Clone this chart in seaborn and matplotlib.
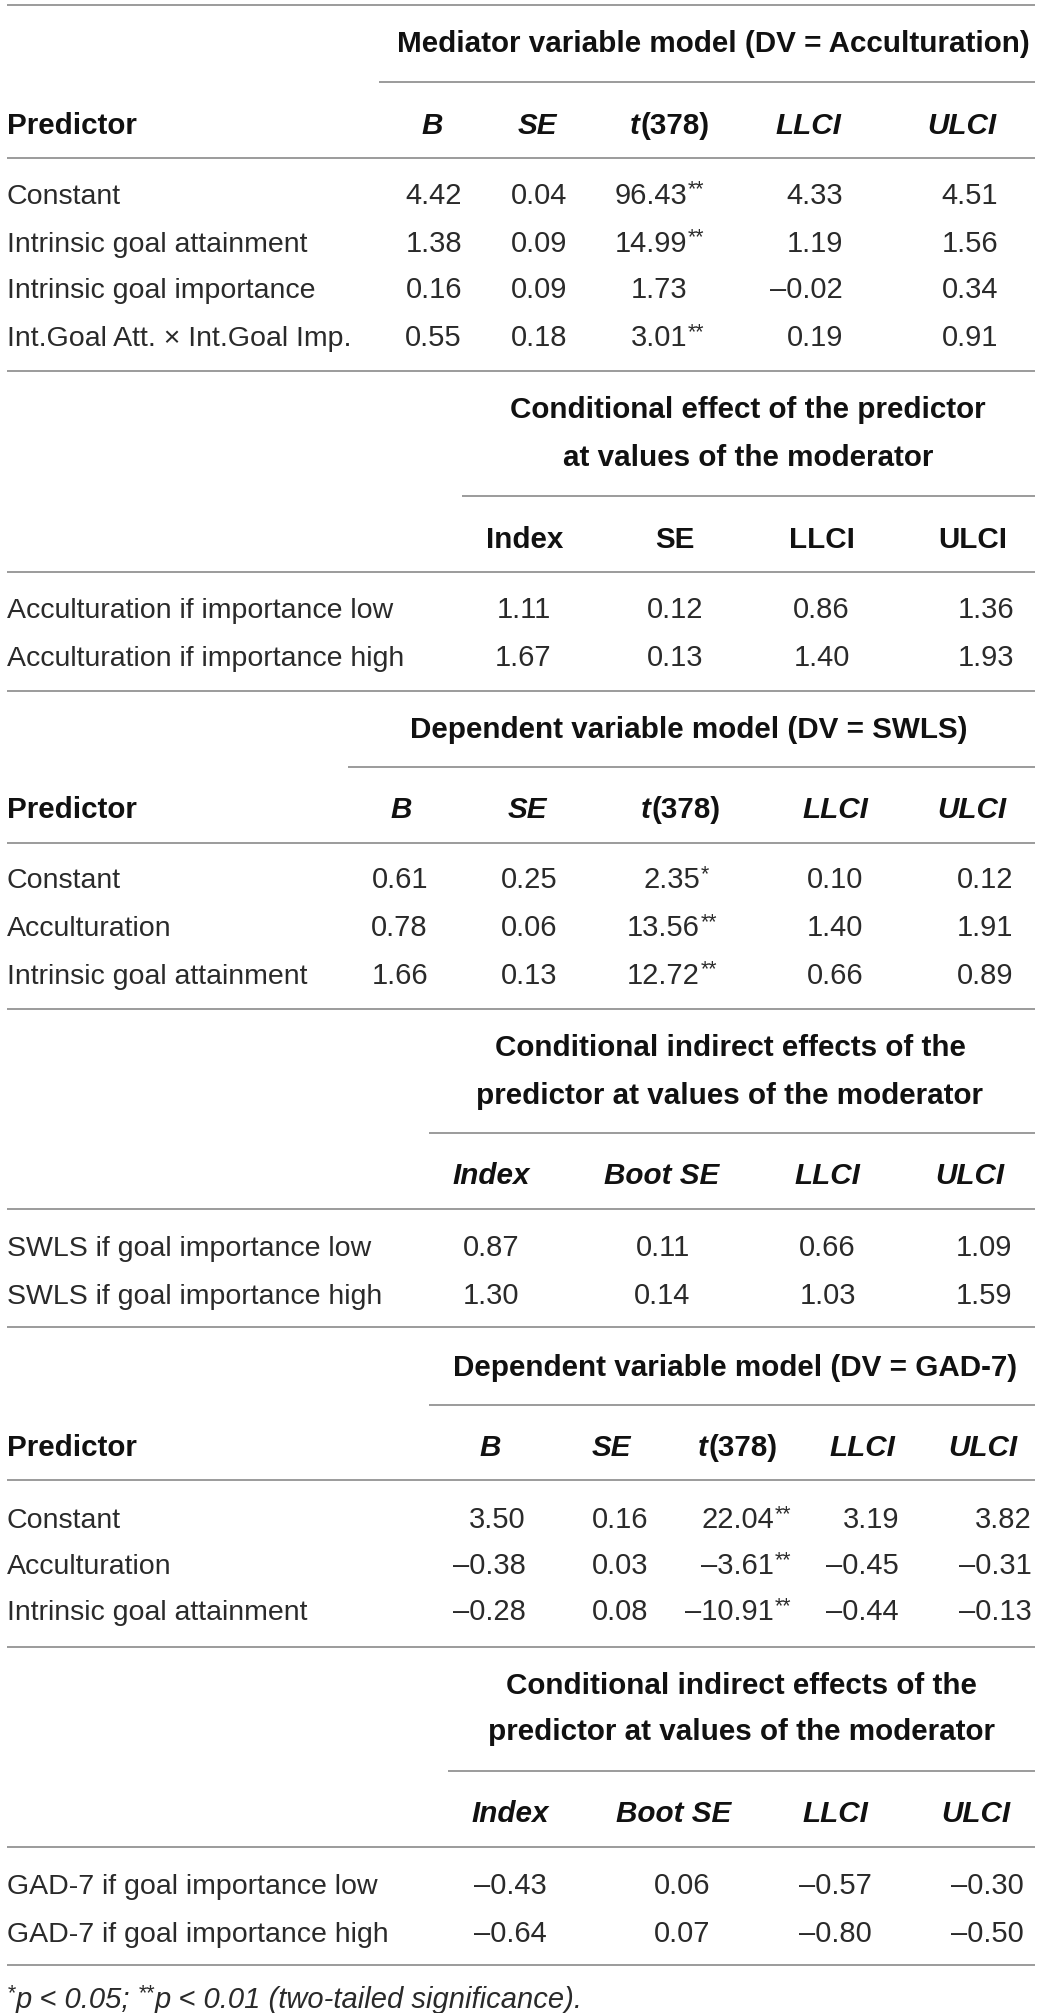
import matplotlib
matplotlib.use("Agg")
import matplotlib.pyplot as plt
import seaborn as sns

# ---------------- data ----------------
med_title = "Mediator variable model (DV = Acculturation)"
med_predictors = ["Constant", "Intrinsic goal attainment", "Intrinsic goal importance",
                  "Int.Goal Att. \u00d7 Int.Goal Imp."]
med_B = [4.42, 1.38, 0.16, 0.55]
med_SE = [0.04, 0.09, 0.09, 0.18]
med_t = [96.43, 14.99, 1.73, 3.01]
med_t_sig = ["**", "**", "", "**"]
med_LLCI = [4.33, 1.19, -0.02, 0.19]
med_ULCI = [4.51, 1.56, 0.34, 0.91]

cond_title = ["Conditional effect of the predictor", "at values of the moderator"]
cond_cols = ["Index", "SE", "LLCI", "ULCI"]
cond_rows = ["Acculturation if importance low", "Acculturation if importance high"]
cond_index = [1.11, 1.67]
cond_SE = [0.12, 0.13]
cond_LLCI = [0.86, 1.40]
cond_ULCI = [1.36, 1.93]

swls_title = "Dependent variable model (DV = SWLS)"
swls_predictors = ["Constant", "Acculturation", "Intrinsic goal attainment"]
swls_B = [0.61, 0.78, 1.66]
swls_SE = [0.25, 0.06, 0.13]
swls_t = [2.35, 13.56, 12.72]
swls_t_sig = ["*", "**", "**"]
swls_LLCI = [0.10, 1.40, 0.66]
swls_ULCI = [0.12, 1.91, 0.89]

ind_title = ["Conditional indirect effects of the", "predictor at values of the moderator"]
ind_cols = ["Index", "Boot SE", "LLCI", "ULCI"]
swls_ind_rows = ["SWLS if goal importance low", "SWLS if goal importance high"]
swls_ind_index = [0.87, 1.30]
swls_ind_SE = [0.11, 0.14]
swls_ind_LLCI = [0.66, 1.03]
swls_ind_ULCI = [1.09, 1.59]

gad_title = "Dependent variable model (DV = GAD-7)"
gad_predictors = ["Constant", "Acculturation", "Intrinsic goal attainment"]
gad_B = [3.50, -0.38, -0.28]
gad_SE = [0.16, 0.03, 0.08]
gad_t = [22.04, -3.61, -10.91]
gad_t_sig = ["**", "**", "**"]
gad_LLCI = [3.19, -0.45, -0.44]
gad_ULCI = [3.82, -0.31, -0.13]

gad_ind_rows = ["GAD-7 if goal importance low", "GAD-7 if goal importance high"]
gad_ind_index = [-0.43, -0.64]
gad_ind_SE = [0.06, 0.07]
gad_ind_LLCI = [-0.57, -0.80]
gad_ind_ULCI = [-0.30, -0.50]

reg_cols = ["B", "SE", "t", "LLCI", "ULCI"]
footnote_parts = [("*", True), ("p < 0.05; ", False), ("**", True),
                  ("p < 0.01 (two-tailed significance).", False)]

# ---------------- style ----------------
W, H = 1049, 2013
sns.set_theme(style="white")
plt.rcParams["font.family"] = ["Liberation Sans", "DejaVu Sans"]
FS = 20.5        # body text
NFS = 21.0       # numbers
BFS = 21.3       # bold headers
FFS = 21.0       # footnote
SFS = 15.5       # superscript stars
CAP = 10.5       # half cap height in px
TXT = "#2a2a2a"
HEAD = "#111111"
RULE = "#808080"
X0, X1 = 7, 1035

fig = plt.figure(figsize=(W / 100, H / 100), dpi=100)
ax = fig.add_axes([0, 0, 1, 1])
ax.set_xlim(0, W)
ax.set_ylim(H, 0)
ax.axis("off")
renderer = fig.canvas.get_renderer()


def fmt(v):
    s = f"{abs(v):.2f}"
    return ("\u2013" + s) if v < 0 else s


def txt(x, y, s, ha="left", bold=False, italic=False, size=FS, color=TXT, dy=0):
    return ax.text(x, y + CAP + dy, s, ha=ha, va="baseline", fontsize=size,
                   fontweight="bold" if bold else "normal",
                   fontstyle="italic" if italic else "normal", color=color)


def width(t):
    return t.get_window_extent(renderer).width


def rule(y, x0=X0, x1=X1):
    ax.hlines(y, x0, x1, color=RULE, lw=1.1)


def header_tr(cx, y):
    a = txt(0, y, "t", bold=True, italic=True, color=HEAD, size=BFS)
    b = txt(0, y, "(378)", bold=True, color=HEAD, size=BFS)
    wa, wb = width(a), width(b)
    start = cx - (wa + wb) / 2
    a.set_x(start)
    b.set_x(start + wa + 1)


def stars(x, y, s):
    if s:
        txt(x + 1, y, s, size=SFS, dy=-8)


def reg_section(title, ty, tcx, ry, rx0, hy, hry, rys, preds, cols, by):
    txt(tcx, ty, title, ha="center", bold=True, color=HEAD, size=BFS)
    rule(ry, rx0)
    txt(X0, hy, "Predictor", bold=True, color=HEAD, size=BFS)
    for (name, cx, rx, vals, sig) in cols:
        if name == "t":
            header_tr(cx, hy)
        else:
            txt(cx, hy, name, ha="center", bold=True, italic=True, color=HEAD, size=BFS)
        for i, y in enumerate(rys):
            txt(rx, y, fmt(vals[i]), ha="right", size=NFS)
            if sig is not None:
                stars(rx, y, sig[i])
    rule(hry)
    for p, y in zip(preds, rys):
        txt(X0, y, p)
    rule(by)


def cond_section(titles, tys, tcx, ry, rx0, hy, hry, rys, rows, cols, italic, by):
    for t, y in zip(titles, tys):
        txt(tcx, y, t, ha="center", bold=True, color=HEAD, size=BFS)
    rule(ry, rx0)
    for (name, cx, rx, vals) in cols:
        txt(cx, hy, name, ha="center", bold=True, italic=italic, color=HEAD, size=BFS)
        for i, y in enumerate(rys):
            txt(rx, y, fmt(vals[i]), ha="right", size=NFS)
    rule(hry)
    for r, y in zip(rows, rys):
        txt(X0, y, r)
    rule(by)


# top rule
rule(5)

# section 1: mediator model
reg_section(med_title, 42, 713, 82, 379, 123, 158, [193, 241, 288, 336], med_predictors,
            [(reg_cols[0], 432, 462, med_B, None),
             (reg_cols[1], 537, 567, med_SE, None),
             (reg_cols[2], 669, 687, med_t, med_t_sig),
             (reg_cols[3], 808, 843, med_LLCI, None),
             (reg_cols[4], 962, 998, med_ULCI, None)], 371)

# section 2: conditional effect
cond_section(cond_title, [408, 455], 748, 496, 462, 537, 572, [607, 655], cond_rows,
             [(cond_cols[0], 525, 551, cond_index),
              (cond_cols[1], 675, 703, cond_SE),
              (cond_cols[2], 822, 850, cond_LLCI),
              (cond_cols[3], 973, 1014, cond_ULCI)], False, 691)

# section 3: SWLS model
reg_section(swls_title, 727, 689, 767, 348, 807, 843, [878, 926, 973], swls_predictors,
            [(reg_cols[0], 401, 428, swls_B, None),
             (reg_cols[1], 527, 557, swls_SE, None),
             (reg_cols[2], 680, 700, swls_t, swls_t_sig),
             (reg_cols[3], 835, 863, swls_LLCI, None),
             (reg_cols[4], 972, 1013, swls_ULCI, None)], 1009)

# section 4: conditional indirect (SWLS)
cond_section(ind_title, [1045, 1093], 730, 1133, 429, 1173, 1209, [1245, 1293], swls_ind_rows,
             [(ind_cols[0], 491, 519, swls_ind_index),
              (ind_cols[1], 662, 690, swls_ind_SE),
              (ind_cols[2], 827, 856, swls_ind_LLCI),
              (ind_cols[3], 970, 1012, swls_ind_ULCI)], True, 1327)

# section 5: GAD-7 model
reg_section(gad_title, 1365, 735, 1405, 429, 1445, 1480, [1518, 1564, 1610], gad_predictors,
            [(reg_cols[0], 490, 526, gad_B, None),
             (reg_cols[1], 611, 648, gad_SE, None),
             (reg_cols[2], 737, 774, gad_t, gad_t_sig),
             (reg_cols[3], 862, 899, gad_LLCI, None),
             (reg_cols[4], 983, 1032, gad_ULCI, None)], 1647)

# section 6: conditional indirect (GAD-7)
cond_section(ind_title, [1683, 1730], 741, 1771, 448, 1812, 1847, [1884, 1932], gad_ind_rows,
             [(ind_cols[0], 510, 547, gad_ind_index),
              (ind_cols[1], 674, 710, gad_ind_SE),
              (ind_cols[2], 835, 872, gad_ind_LLCI),
              (ind_cols[3], 976, 1024, gad_ind_ULCI)], True, 1965)

# footnote
x = X0
for s, sup in footnote_parts:
    if sup:
        t = txt(x, 1997, s, size=SFS, italic=True, dy=-8)
    else:
        t = txt(x, 1997, s, italic=True, size=FFS)
    x += width(t)

fig.savefig("out.png", dpi=100, facecolor="white")
